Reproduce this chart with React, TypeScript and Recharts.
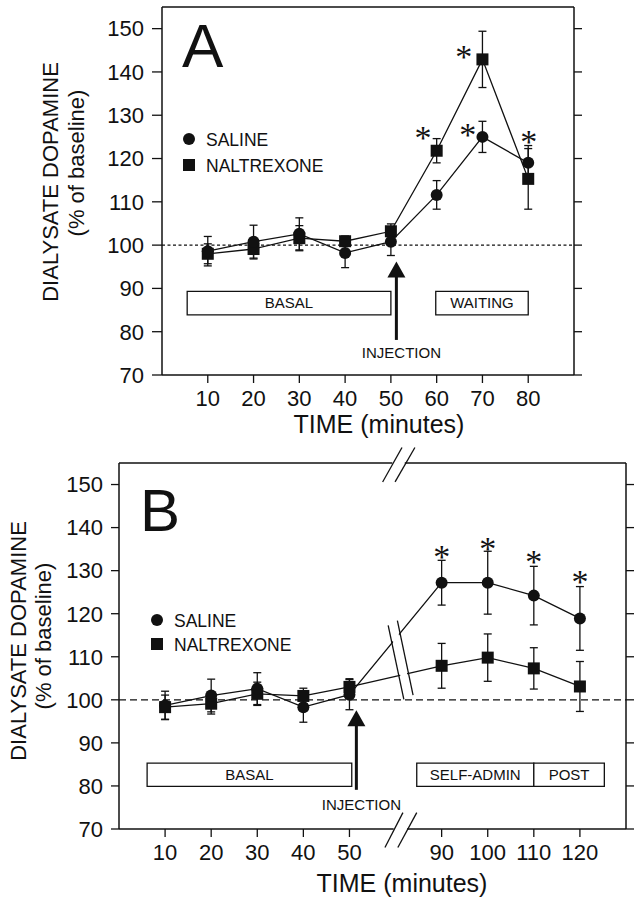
import React from "react";
import {
  ComposedChart,
  Line,
  Scatter,
  XAxis,
  YAxis,
  ErrorBar,
  ReferenceLine,
  ReferenceArea,
  ReferenceDot,
} from "recharts";

const INK = "#111";
const SANS = '"Liberation Sans", Arial, Helvetica, sans-serif';
const SERIF = '"Liberation Serif", "Times New Roman", serif';

const Y_TICKS = [70, 80, 90, 100, 110, 120, 130, 140, 150];

// Panel A (minutes, % of baseline, SEM)
const TIME_A = [10, 20, 30, 40, 50, 60, 70, 80];
const SALINE_A = [98.6, 100.8, 102.6, 98.2, 100.8, 111.6, 125.0, 119.0];
const SALINE_A_SE = [3.4, 3.8, 3.7, 3.4, 3.2, 3.3, 3.6, 4.0];
const NALTREXONE_A = [98.0, 99.1, 101.6, 100.9, 103.2, 121.8, 142.9, 115.3];
const NALTREXONE_A_SE = [2.3, 2.3, 2.9, 1.2, 1.7, 2.8, 6.5, 7.0];
const STAR_T_A = [57.0, 65.9, 66.8, 80.1];
const STAR_V_A = [126.0, 144.7, 126.6, 125.0];

// Panel B, time axis broken between 50 and 90 min
const TIME_B = [10, 20, 30, 40, 50, 90, 100, 110, 120];
const SALINE_B = [98.7, 101.0, 102.6, 98.3, 101.2, 127.2, 127.2, 124.2, 118.9];
const SALINE_B_SE = [3.3, 3.8, 3.7, 3.5, 3.5, 5.2, 7.3, 6.8, 7.4];
const NALTREXONE_B = [98.3, 99.1, 101.4, 100.9, 103.0, 107.9, 109.8, 107.3, 103.1];
const NALTREXONE_B_SE = [2.8, 2.4, 2.7, 1.8, 1.9, 5.2, 5.5, 4.8, 5.8];
const STAR_T_B = [90, 100, 110, 120];
const STAR_V_B = [134.3, 136.2, 133.1, 128.5];

// slot on the broken axis: one tick slot stands in for 50..90
const pos = (t: number) => (t <= 50 ? t / 10 : t >= 90 ? t / 10 - 2 : 5 + (t - 50) / 20);

const CircleDot = (p: any) => (
  <circle key={`c${p.index}`} cx={p.cx} cy={p.cy} r={6} fill={INK} />
);
const SquareDot = (p: any) => (
  <rect key={`s${p.index}`} x={p.cx - 6} y={p.cy - 6} width={12} height={12} fill={INK} />
);
const Star = (p: any) => (
  <text x={p.cx} y={p.cy + 16} textAnchor="middle" fontFamily={SERIF} fontSize={34} fill={INK}>
    *
  </text>
);
const ArrowHead = (p: any) => (
  <polygon
    points={`${p.cx},${p.cy} ${p.cx - 9},${p.cy + 16} ${p.cx + 9},${p.cy + 16}`}
    fill={INK}
  />
);
const Injection = (p: any) => (
  <text
    x={p.cx}
    y={p.cy}
    textAnchor="middle"
    dominantBaseline="central"
    fontFamily={SANS}
    fontSize={15}
    fill={INK}
  >
    INJECTION
  </text>
);
const NoTick = () => <g />;

const tickStyle = { fill: INK, fontSize: 22, fontFamily: SANS };
const axisLine = { stroke: INK, strokeWidth: 1.5 };
const tickLine = { stroke: INK, strokeWidth: 1.3 };
const boxLabel = (value: string) => ({
  value,
  position: "center" as const,
  fill: INK,
  fontSize: 15,
  fontFamily: SANS,
});
const box = { stroke: INK, strokeWidth: 1.3, fill: "#fff", fillOpacity: 1, ifOverflow: "visible" as const };
const seg = { stroke: INK, strokeWidth: 1.3, ifOverflow: "visible" as const };

function PanelA() {
  const data = TIME_A.map((t, i) => ({
    t,
    sal: SALINE_A[i],
    salErr: SALINE_A_SE[i],
    nal: NALTREXONE_A[i],
    nalErr: NALTREXONE_A_SE[i],
  }));
  const stars = STAR_T_A.map((t, i) => ({ t, v: STAR_V_A[i] }));
  return (
    <ComposedChart width={640} height={440} data={data} margin={{ top: 7, right: 56, bottom: 35, left: 102 }}>
      <XAxis
        dataKey="t"
        type="number"
        domain={[0, 90]}
        ticks={TIME_A}
        interval={0}
        allowDataOverflow
        height={30}
        tickSize={8}
        tickMargin={7}
        tick={tickStyle}
        axisLine={axisLine}
        tickLine={tickLine}
      />
      <YAxis
        domain={[70, 155]}
        ticks={Y_TICKS}
        interval={0}
        allowDataOverflow
        width={60}
        tickSize={10}
        tickMargin={8}
        tick={tickStyle}
        axisLine={axisLine}
        tickLine={tickLine}
      />
      <YAxis
        yAxisId="r"
        orientation="right"
        domain={[70, 155]}
        ticks={Y_TICKS}
        interval={0}
        allowDataOverflow
        width={10}
        tickSize={8}
        tick={NoTick}
        axisLine={axisLine}
        tickLine={tickLine}
      />
      <ReferenceLine y={155} stroke={INK} strokeWidth={1.5} ifOverflow="visible" />
      <ReferenceLine y={100} stroke={INK} strokeWidth={1.3} strokeDasharray="3 2.5" />
      <ReferenceArea x1={5.5} x2={50} y1={83.9} y2={89.3} {...box} label={boxLabel("BASAL")} />
      <ReferenceArea x1={59.8} x2={80} y1={83.9} y2={89.3} {...box} label={boxLabel("WAITING")} />
      <ReferenceLine segment={[{ x: 51.2, y: 78.1 }, { x: 51.2, y: 94 }]} stroke={INK} strokeWidth={3} ifOverflow="visible" />
      <ReferenceDot x={51.2} y={96.2} shape={ArrowHead} ifOverflow="visible" />
      <ReferenceDot x={52.3} y={75.1} shape={Injection} ifOverflow="visible" />
      <Line dataKey="nal" type="linear" stroke={INK} strokeWidth={1.3} dot={SquareDot} isAnimationActive={false}>
        <ErrorBar dataKey="nalErr" width={4} stroke={INK} strokeWidth={1.3} />
      </Line>
      <Line dataKey="sal" type="linear" stroke={INK} strokeWidth={1.3} dot={CircleDot} isAnimationActive={false}>
        <ErrorBar dataKey="salErr" width={4} stroke={INK} strokeWidth={1.3} />
      </Line>
      <Scatter data={stars} dataKey="v" shape={Star} isAnimationActive={false} />
    </ComposedChart>
  );
}

function PanelB() {
  const data = TIME_B.map((t, i) => ({
    p: pos(t),
    sal: SALINE_B[i],
    salErr: SALINE_B_SE[i],
    nal: NALTREXONE_B[i],
    nalErr: NALTREXONE_B_SE[i],
  }));
  const stars = STAR_T_B.map((t, i) => ({ p: pos(t), v: STAR_V_B[i] }));
  const label = (v: number) => String(TIME_B.find((t) => pos(t) === v) ?? "");
  return (
    <ComposedChart width={640} height={460} data={data} margin={{ top: 23, right: 4, bottom: 41, left: 59 }}>
      <XAxis
        dataKey="p"
        type="number"
        domain={[0, 11]}
        ticks={TIME_B.map(pos)}
        tickFormatter={label}
        interval={0}
        allowDataOverflow
        height={30}
        tickSize={8}
        tickMargin={7}
        tick={tickStyle}
        axisLine={false}
        tickLine={tickLine}
      />
      <YAxis
        domain={[70, 155]}
        ticks={Y_TICKS}
        interval={0}
        allowDataOverflow
        width={60}
        tickSize={8}
        tickMargin={8}
        tick={tickStyle}
        axisLine={axisLine}
        tickLine={tickLine}
      />
      <YAxis
        yAxisId="r"
        orientation="right"
        domain={[70, 155]}
        ticks={Y_TICKS}
        interval={0}
        allowDataOverflow
        width={10}
        tickSize={8}
        tick={NoTick}
        axisLine={axisLine}
        tickLine={tickLine}
      />
      {/* broken frame, top and bottom */}
      <ReferenceLine segment={[{ x: 0, y: 155 }, { x: 5.93, y: 155 }]} {...seg} strokeWidth={1.5} />
      <ReferenceLine segment={[{ x: 6.2, y: 155 }, { x: 11, y: 155 }]} {...seg} strokeWidth={1.5} />
      <ReferenceLine segment={[{ x: 5.72, y: 150.6 }, { x: 6.14, y: 158.6 }]} {...seg} />
      <ReferenceLine segment={[{ x: 5.99, y: 150.6 }, { x: 6.42, y: 158.6 }]} {...seg} />
      <ReferenceLine segment={[{ x: 0, y: 70 }, { x: 5.96, y: 70 }]} {...seg} strokeWidth={1.5} />
      <ReferenceLine segment={[{ x: 6.25, y: 70 }, { x: 11, y: 70 }]} {...seg} strokeWidth={1.5} />
      <ReferenceLine segment={[{ x: 5.77, y: 65.7 }, { x: 6.16, y: 73.8 }]} {...seg} />
      <ReferenceLine segment={[{ x: 6.05, y: 65.7 }, { x: 6.46, y: 73.8 }]} {...seg} />
      <ReferenceLine y={100} stroke={INK} strokeWidth={1.3} strokeDasharray="7 4" />
      <ReferenceArea x1={0.61} x2={5.05} y1={79.9} y2={85.3} {...box} label={boxLabel("BASAL")} />
      <ReferenceArea x1={6.46} x2={9.0} y1={79.9} y2={85.3} {...box} label={boxLabel("SELF-ADMIN")} />
      <ReferenceArea x1={9.0} x2={10.53} y1={79.9} y2={85.3} {...box} label={boxLabel("POST")} />
      <ReferenceLine segment={[{ x: 5.15, y: 79.1 }, { x: 5.15, y: 95 }]} stroke={INK} strokeWidth={3} ifOverflow="visible" />
      <ReferenceDot x={5.15} y={97.6} shape={ArrowHead} ifOverflow="visible" />
      <ReferenceDot x={5.26} y={75.8} shape={Injection} ifOverflow="visible" />
      <Line dataKey="nal" type="linear" stroke={INK} strokeWidth={1.3} dot={SquareDot} isAnimationActive={false}>
        <ErrorBar dataKey="nalErr" width={4} stroke={INK} strokeWidth={1.3} />
      </Line>
      <Line dataKey="sal" type="linear" stroke={INK} strokeWidth={1.3} dot={CircleDot} isAnimationActive={false}>
        <ErrorBar dataKey="salErr" width={4} stroke={INK} strokeWidth={1.3} />
      </Line>
      <Scatter data={stars} dataKey="v" shape={Star} isAnimationActive={false} />
      {/* break across the series lines */}
      <ReferenceLine segment={[{ x: 5.94, y: 117.85 }, { x: 6.28, y: 100.6 }]} stroke="#fff" strokeWidth={7} ifOverflow="visible" zIndex={1500} />
      <ReferenceLine segment={[{ x: 5.84, y: 117.3 }, { x: 6.18, y: 100.1 }]} {...seg} zIndex={1600} />
      <ReferenceLine segment={[{ x: 6.04, y: 118.4 }, { x: 6.38, y: 101.1 }]} {...seg} zIndex={1600} />
    </ComposedChart>
  );
}

function Legend({ x, y, gap }: { x: number; y: number; gap: number }) {
  return (
    <g fontFamily={SANS} fontSize={17.5} fill={INK}>
      <circle cx={x} cy={y} r={6} fill={INK} />
      <text x={x + 17} y={y + 6.5}>SALINE</text>
      <rect x={x - 6} y={y + gap - 6} width={12} height={12} fill={INK} />
      <text x={x + 17} y={y + gap + 6.5}>NALTREXONE</text>
    </g>
  );
}

function YTitle({ x1, x2, cy1, cy2 }: { x1: number; x2: number; cy1: number; cy2: number }) {
  return (
    <g fontFamily={SANS} fontSize={22} fill={INK} textAnchor="middle">
      <text transform={`translate(${x1},${cy1}) rotate(-90)`}>DIALYSATE DOPAMINE</text>
      <text transform={`translate(${x2},${cy2}) rotate(-90)`}>(% of baseline)</text>
    </g>
  );
}

export default function App() {
  return (
    <div style={{ position: "absolute", left: 0, top: 0, width: 640, height: 900, background: "#fff" }}>
      <div style={{ position: "absolute", left: 0, top: 0 }}>
        <PanelA />
      </div>
      <div style={{ position: "absolute", left: 0, top: 440 }}>
        <PanelB />
      </div>
      <svg width={640} height={900} style={{ position: "absolute", left: 0, top: 0, pointerEvents: "none" }}>
        <text x={182} y={67} fontFamily={SANS} fontSize={62} fill={INK}>A</text>
        <text x={140} y={531} fontFamily={SANS} fontSize={60} fill={INK}>B</text>
        <Legend x={189} y={139} gap={26} />
        <Legend x={157} y={620} gap={24} />
        <YTitle x1={58} x2={84} cy1={182} cy2={163} />
        <YTitle x1={26} x2={51} cy1={641} cy2={636} />
        <text x={379} y={433} textAnchor="middle" fontFamily={SANS} fontSize={25} fill={INK}>TIME (minutes)</text>
        <text x={402} y={892} textAnchor="middle" fontFamily={SANS} fontSize={25} fill={INK}>TIME (minutes)</text>
      </svg>
    </div>
  );
}
